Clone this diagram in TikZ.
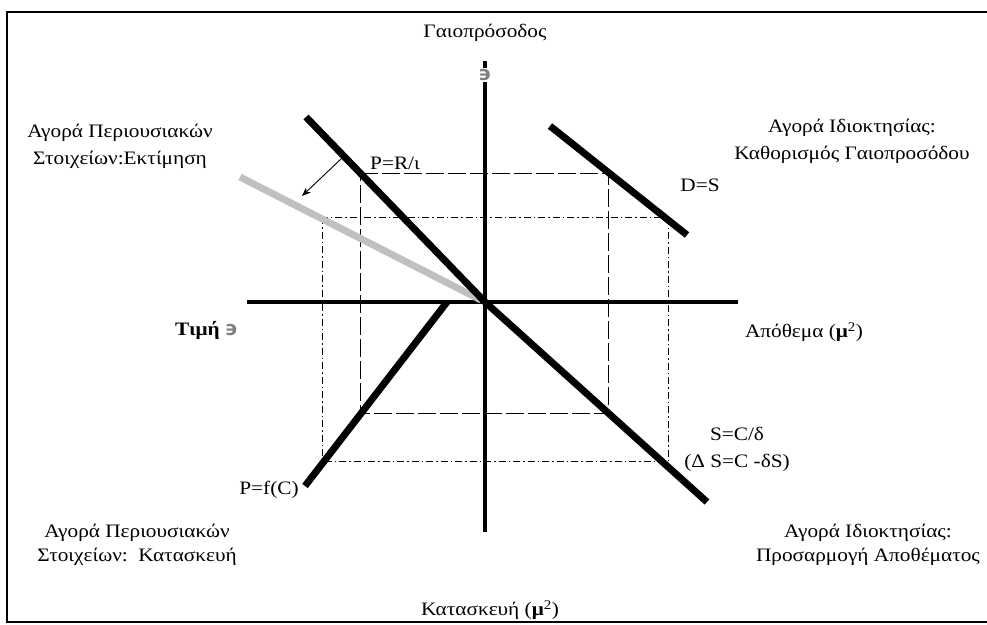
\documentclass[tikz,border=0pt]{standalone}
\usepackage{fontspec}
\setmainfont[FakeStretch=1.12]{Liberation Serif}
\newfontfamily\symfont{DejaVu Sans}
\usetikzlibrary{arrows.meta}
\definecolor{shiftgrey}{RGB}{192,192,192}
\definecolor{markgrey}{RGB}{128,128,128}
\newcommand{\revsym}{{\symfont\bfseries\color{markgrey}϶}}

\begin{document}
\begin{tikzpicture}
  [x=1pt,y=-1pt,
   every node/.style={font=\fontsize{19}{27}\selectfont,inner sep=0pt,align=center},
   axis/.style={line width=4.5pt},
   curve/.style={line width=7pt},
   shifted/.style={line width=7pt,shiftgrey},
   guide/.style={line width=0.9pt,dash pattern=on 18pt off 4pt},
   guidedot/.style={line width=0.9pt,dash pattern=on 7pt off 3pt on 1.5pt off 3pt}]
  \useasboundingbox (0,0) rectangle (987,624);
  \draw[line width=1.7pt] (7,12) rectangle (995,622);
  \coordinate (O) at (485,302);
  \coordinate (vtop) at (485,61);
  \coordinate (vbot) at (485,532);
  \coordinate (hleft) at (247,302);
  \coordinate (hright) at (738,302);
  \coordinate (prTop) at (306,117);
  \coordinate (scEnd) at (707,502);
  \coordinate (grTop) at (240,177);
  \coordinate (grEnd) at (481,300);
  \coordinate (dsTop) at (550,126);
  \coordinate (dsEnd) at (687,235);
  \coordinate (pfEnd) at (305,486);
  \coordinate (pfTop) at (447,302);
  \coordinate (shA) at (342,158);
  \coordinate (shB) at (302,196);
  \coordinate (in1) at (360,173);
  \coordinate (in2) at (608,173);
  \coordinate (in3) at (608,413);
  \coordinate (in4) at (360,413);
  \coordinate (out1) at (322,217);
  \coordinate (out3) at (668,461);
  \draw[guide] (in1) -- (in2) -- (in3) -- (in4) -- cycle;
  \draw[guidedot] (out1) rectangle (out3);
  \draw[axis] (vtop) -- (vbot);
  \draw[axis] (hleft) -- (hright);
  \draw[shifted] (grTop) -- (grEnd);
  \draw[curve] (prTop) -- (O);
  \draw[curve] (O) -- (scEnd);
  \draw[curve] (dsTop) -- (dsEnd);
  \draw[curve] (pfEnd) -- (pfTop);
  \draw[line width=0.9pt,-{Stealth[length=9pt,width=7pt]}] (shA) -- (shB);
  \node (gaio) at (485,33) {Γαιοπρόσοδος};
  \node[fill=white,inner sep=1pt,font=\fontsize{20}{20}\selectfont] (vsym) at (485,75) {\revsym};
  \node (agoraEkt) at (120,146) {Αγορά Περιουσιακών\\Στοιχείων:Εκτίμηση};
  \node (agoraKath) at (852,141) {Αγορά Ιδιοκτησίας:\\Καθορισμός Γαιοπροσόδου};
  \node (prl) at (395,163) {P=R/ι};
  \node (ds) at (700,185) {D=S};
  \node[anchor=west] (timi) at (175,330) {\textbf{Τιμή} {\fontsize{20}{20}\selectfont\revsym}};
  \node (apoth) at (804,332) {Απόθεμα (\textbf{μ}\textsuperscript{2})};
  \node (scd) at (737,449) {S=C/δ\\(Δ S=C -δS)};
  \node (pfc) at (269,490) {P=f(C)};
  \node[font=\fontsize{19}{24}\selectfont] (agoraKat) at (137,545) {Αγορά Περιουσιακών\\Στοιχείων:\ \ Κατασκευή};
  \node[font=\fontsize{19}{24}\selectfont] (agoraPros) at (868,545) {Αγορά Ιδιοκτησίας:\\Προσαρμογή Αποθέματος};
  \node (katask) at (490,610) {Κατασκευή (\textbf{μ}\textsuperscript{2})};
\end{tikzpicture}
\end{document}
